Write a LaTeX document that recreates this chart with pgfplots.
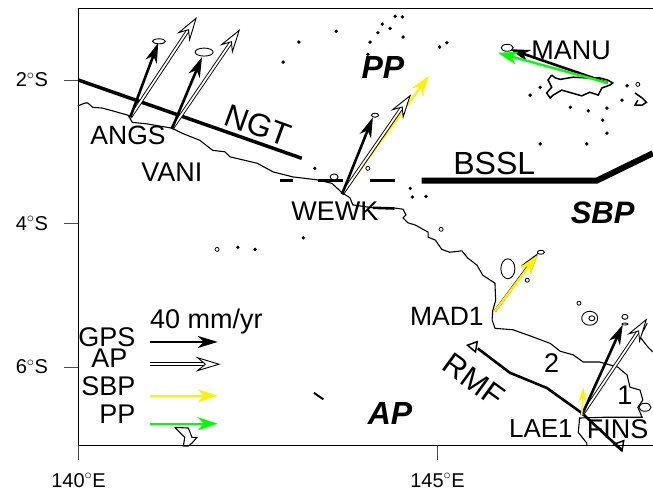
\documentclass[border=0pt]{standalone}
\usepackage{fontspec}
\setmainfont{Liberation Sans}
\usepackage{pgfplots}
\pgfplotsset{compat=1.18}
\usetikzlibrary{arrows.meta}

\newcommand{\labsize}[1]{\fontsize{#1}{#1}\selectfont}

\pgfplotsset{
  coast/.style={black, line width=1.1pt},
  isles/.style={only marks, mark=*, mark size=1.5pt, mark options={black}},
  openisles/.style={only marks, mark=o, mark size=2pt, mark options={black, line width=0.8pt, fill=white}},
  ell/.style 2 args={only marks, mark=*, mark size=1pt, mark options={draw=black, fill=white, line width=0.9pt, xscale=#1, yscale=#2}},
  gps/.style={black, line width=2.6pt, -{Stealth[length=20pt, width=12pt, inset=6pt]}},
  ap/.style={black, line width=0.9pt, double=white, double distance=1.8pt, -{Stealth[open, fill=white, length=25pt, width=15pt, inset=9pt]}},
  sbp/.style={yellow, line width=2.4pt, -{Stealth[length=20pt, width=13pt, inset=6pt]}},
  pp/.style={green, line width=2.4pt, -{Stealth[length=20pt, width=13pt, inset=6pt]}},
}

\begin{document}
\begin{tikzpicture}
\path[use as bounding box] (0,0) rectangle (653pt,492pt);
\begin{axis}[
    at={(78.5pt,46pt)}, anchor=south west,
    x=71.8pt, y=71.75pt,
    xmin=140, xmax=148.2,
    ymin=-7.1, ymax=-1,
    clip=false,
    axis line style={line width=1pt},
    tick align=outside, tick pos=left,
    major tick length=14pt,
    tick style={line width=1pt, black!70},
    xtick={140,145}, xticklabels={140$^\circ$E,145$^\circ$E},
    ytick={-6,-4,-2}, yticklabels={6$^\circ$S,4$^\circ$S,2$^\circ$S},
    tick label style={font=\labsize{20}},
    xticklabel style={yshift=-10pt},
    yticklabel style={xshift=-13pt},
]

% coastline, New Guinea north coast
\addplot[coast] coordinates {
    (139.99,-2.36) (140.09,-2.32) (140.13,-2.32) (140.20,-2.38) (140.33,-2.39)
    (140.48,-2.43) (140.69,-2.49) (140.75,-2.59) (140.95,-2.61) (141.30,-2.67)
    (141.44,-2.74) (141.69,-2.84) (141.87,-2.98) (142.04,-3.00) (142.11,-3.07)
    (142.49,-3.16) (142.71,-3.28) (142.99,-3.35) (143.32,-3.39) (143.53,-3.44)
    (143.67,-3.57) (143.78,-3.64) (143.82,-3.74) (144.10,-3.78) (144.38,-3.78)
    (144.52,-3.80) (144.56,-3.88) (144.52,-3.92) (144.59,-3.99) (144.69,-4.02)
    (144.87,-4.12) (144.87,-4.19) (144.97,-4.23) (145.06,-4.36) (145.17,-4.40)
    (145.34,-4.38) (145.42,-4.48) (145.55,-4.58) (145.63,-4.72) (145.80,-4.83)
    (145.81,-5.07) (145.77,-5.21) (145.76,-5.34) (145.80,-5.46)
    (146.05,-5.48) (146.33,-5.58) (146.57,-5.67) (146.71,-5.78) (146.89,-5.83)
    (147.03,-5.93) (147.26,-5.93) (147.51,-6.00) (147.64,-6.11) (147.68,-6.28)
    (147.82,-6.32) (147.86,-6.46) (147.79,-6.56) (147.85,-6.70) (147.64,-6.70)
    (147.30,-6.70) (146.98,-6.71) (146.96,-6.91) (147.08,-7.06) (147.08,-7.10)
};
\addplot[black, line width=2.6pt] coordinates {(144.10,-3.78) (144.40,-3.79)};
\addplot[coast] coordinates {(147.92,-5.39) (147.82,-5.58) (147.93,-5.72) (148.00,-5.79)};
% New Ireland and others
\addplot[black, line width=1.5pt] coordinates {
    (146.59,-1.93) (146.64,-1.97) (146.71,-1.99) (146.89,-1.96) (147.08,-1.97)
    (147.26,-1.97) (147.37,-2.00) (147.44,-2.04) (147.40,-2.07) (147.29,-2.11)
    (147.24,-2.21) (147.12,-2.17) (147.01,-2.22) (146.87,-2.18) (146.73,-2.14)
    (146.61,-2.21) (146.57,-2.25) (146.52,-2.18) (146.59,-2.10) (146.54,-2.00)
    (146.59,-1.93)
};
\addplot[black, line width=1.5pt] coordinates {(147.75,-2.18) (147.85,-2.25) (147.91,-2.31) (147.85,-2.35) (147.75,-2.35) (147.79,-2.28)};
\addplot[coast] coordinates {
    (141.34,-6.84) (141.53,-6.85) (141.58,-6.98) (141.65,-6.98) (141.58,-7.06)
    (141.53,-7.10) (141.46,-7.10) (141.48,-6.98) (141.34,-6.84)
};

% small islands
\addplot[isles] coordinates {
    (143.59,-1.32) (143.07,-1.47) (142.85,-1.75) (143.29,-3.23) (143.13,-4.20)
    (142.22,-4.33) (142.46,-4.36) (144.41,-1.11) (144.51,-1.12)
    (144.23,-1.22) (144.34,-1.28) (144.17,-1.34) (144.06,-1.47) (144.52,-1.40)
    (144.03,-1.64) (145.03,-1.54) (145.13,-1.48) (146.29,-2.21) (146.43,-2.10)
    (146.85,-2.38) (147.10,-2.43) (147.36,-2.39) (147.30,-2.56) (147.57,-2.28)
    (147.64,-2.08) (147.36,-2.74) (146.43,-2.89) (147.08,-2.89) (144.62,-3.51)
    (144.65,-3.63) (144.84,-3.62)
};
\addplot[black, line width=2pt] coordinates {(143.28,-6.36) (143.41,-6.45)};
\addplot[openisles] coordinates {
    (141.93,-4.36) (147.79,-2.06) (146.97,-5.11) (146.25,-4.79) (144.03,-3.23) (145.05,-4.08)
};
\addplot[ell={4}{3}] coordinates {(143.56,-3.35)};
\addplot[ell={7}{10}] coordinates {(145.98,-4.63)};
\addplot[ell={8}{7}] coordinates {(147.12,-5.32)};
\addplot[ell={3}{2.5}] coordinates {(147.15,-5.32)};
\addplot[ell={6}{4}] coordinates {(147.89,-6.56)};

% faults
\addplot[black, line width=3.5pt] coordinates {(140,-2) (143.11,-3.09)};
\addplot[black, line width=3pt] coordinates {(142.81,-3.40) (142.99,-3.40)};
\addplot[black, line width=3pt] coordinates {(143.34,-3.40) (143.68,-3.40)};
\addplot[black, line width=3pt] coordinates {(144.06,-3.40) (144.41,-3.40)};
\addplot[black, line width=6pt, line join=miter] coordinates {(144.78,-3.40) (147.22,-3.40) (148.00,-3.02)};
\addplot[black, line width=2.6pt] coordinates {(145.56,-5.74) (146.01,-6.08) (146.52,-6.29) (147.01,-6.64) (147.57,-7.16)};
\addplot[only marks, mark=triangle, mark size=6pt, mark options={black, line width=1.5pt, rotate=-40}] coordinates {(145.50,-5.71) (147.54,-7.09)};

% velocities
\addplot[ap] coordinates {(140.72,-2.52) (141.65,-1.12)};
\addplot[gps] coordinates {(140.72,-2.52) (141.11,-1.48)};
\addplot[ap] coordinates {(141.30,-2.68) (142.25,-1.29)};
\addplot[gps] coordinates {(141.30,-2.68) (141.72,-1.68)};
\addplot[sbp] coordinates {(143.67,-3.59) (144.88,-1.94)};
\addplot[ap] coordinates {(143.67,-3.59) (144.63,-2.20)};
\addplot[gps] coordinates {(143.67,-3.59) (144.10,-2.52)};
\addplot[gps] coordinates {(147.37,-2.04) (146.01,-1.57)};
\addplot[pp] coordinates {(147.37,-2.04) (145.84,-1.62)};
\addplot[gps] coordinates {(145.80,-5.22) (146.40,-4.41)};
\addplot[sbp] coordinates {(145.80,-5.22) (146.39,-4.44)};
\addplot[ap] coordinates {(147.01,-6.67) (147.92,-5.32)};
\addplot[gps] coordinates {(147.01,-6.67) (147.58,-5.41)};
\addplot[yellow, line width=1.5pt, -{Stealth[length=15pt, width=8pt, inset=4pt]}] coordinates {(147.01,-6.67) (147.03,-6.28)};
\addplot[yellow, line width=1.5pt, -{Stealth[length=4pt, width=3pt]}] coordinates {(147.86,-6.63) (147.93,-6.54)};

% error ellipses
\addplot[ell={6.5}{2.5}] coordinates {(141.12,-1.46)};
\addplot[ell={9}{4}] coordinates {(141.75,-1.61)};
\addplot[ell={3.5}{2}] coordinates {(144.13,-2.49)};
\addplot[ell={6}{3.5}] coordinates {(145.97,-1.55)};
\addplot[ell={3.5}{2}] coordinates {(146.44,-4.40)};
\addplot[ell={3}{2.5}] coordinates {(147.61,-5.30)};
\addplot[ell={3}{1}] coordinates {(147.61,-5.40)};

% scale arrows
\addplot[gps] coordinates {(141.00,-5.65) (141.94,-5.65)};
\addplot[ap] coordinates {(141.00,-5.96) (141.98,-5.96)};
\addplot[sbp] coordinates {(141.00,-6.40) (141.94,-6.40)};
\addplot[pp] coordinates {(141.00,-6.79) (141.94,-6.79)};

% labels
\node[font=\labsize{26.5}] at (axis cs:140.69,-2.77) {ANGS};
\node[font=\labsize{27}] at (axis cs:141.30,-3.28) {VANI};
\node[font=\labsize{27}] at (axis cs:143.57,-3.83) {WEWK};
\node[font=\labsize{32}, rotate=-20] at (axis cs:142.50,-2.63) {NGT};
\node[font=\labsize{32}] at (axis cs:145.79,-3.16) {BSSL};
\node[font=\labsize{27}] at (axis cs:146.86,-1.58) {MANU};
\node[font=\labsize{32}\bfseries\itshape] at (axis cs:144.24,-1.83) {PP};
\node[font=\labsize{31}\bfseries\itshape] at (axis cs:147.30,-3.85) {SBP};
\node[font=\labsize{32}\bfseries\itshape] at (axis cs:144.34,-6.64) {AP};
\node[font=\labsize{26.5}] at (axis cs:145.13,-5.30) {MAD1};
\node[font=\labsize{31}, rotate=-36] at (axis cs:145.51,-6.18) {RMF};
\node[font=\labsize{27}] at (axis cs:146.59,-5.94) {2};
\node[font=\labsize{27}] at (axis cs:147.61,-6.39) {1};
\node[font=\labsize{26}] at (axis cs:146.44,-6.86) {LAE1};
\node[font=\labsize{27}] at (axis cs:147.51,-6.86) {FINS};
\node[font=\labsize{27}] at (axis cs:141.78,-5.37) {40 mm/yr};
\node[font=\labsize{27}, anchor=east] at (axis cs:140.84,-5.58) {GPS};
\node[font=\labsize{27}, anchor=east] at (axis cs:140.73,-5.87) {AP};
\node[font=\labsize{27}, anchor=east] at (axis cs:140.84,-6.26) {SBP};
\node[font=\labsize{27}, anchor=east] at (axis cs:140.84,-6.66) {PP};
\end{axis}
\end{tikzpicture}
\end{document}
